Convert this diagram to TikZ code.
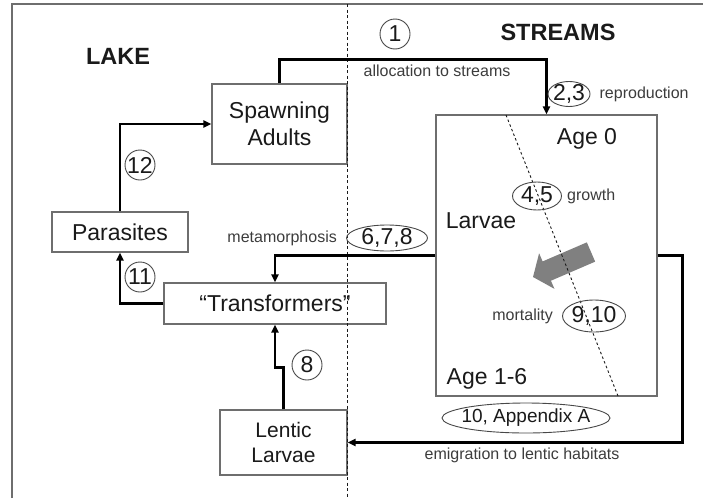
\documentclass[tikz,border=0pt]{standalone}
\usepackage{fontspec}
\setmainfont{Liberation Sans}
\usepackage{tikz}
\usetikzlibrary{positioning,shapes.geometric,arrows.meta}
\definecolor{boxgray}{HTML}{6E6E6E}
\definecolor{txt}{HTML}{1A1A1A}
\tikzset{%
  flow/.style = {-{Triangle[length=8pt,width=7pt]},line width=2.6pt},
  mortarrow/.style = {-{Triangle[length=15pt,width=38pt]},line width=21pt,
        draw=black!50},
  r/.style = {rectangle,draw=boxgray,line width=1.1pt,fill=white,
        text=txt,align=center,font=\fontsize{23}{27}\selectfont},
  c/.style = {circle,draw=txt!80,line width=0.9pt,minimum size=30pt,
        inner sep=-1pt,text=txt,font=\fontsize{23}{23}\selectfont},
  oval/.style = {ellipse,draw=txt!80,line width=0.9pt,inner xsep=-2pt,
        inner ysep=-2pt,text=txt,font=\fontsize{23}{23}\selectfont},
  txtin/.style = {text=txt,inner sep=0pt,font=\fontsize{23}{27}\selectfont},
  lbl/.style = {text=txt!85,inner sep=0pt,font=\fontsize{16}{16}\selectfont},
  title/.style = {text=txt,inner sep=0pt,font=\fontsize{23.5}{24}\selectfont\bfseries}
}
\begin{document}
\begin{tikzpicture}[x=1pt,y=-1pt]
\useasboundingbox (0,0) rectangle (703,498);
\draw[boxgray,line width=1.4pt] (12,498) -- (12,4) -- (703,4);

\node[title] (lake) at (118,56) {LAKE};
\node[title] (streams) at (558,32) {STREAMS};

% compartments
\node[r,minimum width=135pt,minimum height=80pt] (spawn) at (279.5,124) {Spawning\\Adults};
\node[r,minimum width=136pt,minimum height=40pt] (para) at (120,232) {Parasites};
\node[r,minimum width=222pt,minimum height=41pt] (trans) at (275,303.5) {“Transformers”};
\node[r,minimum width=127pt,minimum height=65pt,font=\fontsize{21}{25}\selectfont] (lentic) at (283.5,442.5) {Lentic\\Larvae};
\node[r,minimum width=221pt,minimum height=281pt] (larv) at (546.5,255.5) {};

\node[txtin] (age0) at (587,139) {Age 0};
\node[txtin] (larvae) at (481,221) {Larvae};
\node[txtin] (age16) at (487,379) {Age 1-6};

% lake / streams divider
\draw[txt,line width=0.8pt,dash pattern=on 3pt off 2.5pt] (347,4) -- (347,498);

% ageing inside the stream box
\coordinate (mtail) at (591,252);
\coordinate (mtip) at (533,277);
\draw[mortarrow] (mtail) -- (mtip);
\coordinate (dtop) at (506,115);
\coordinate (dbot) at (618,396);
\draw[txt,line width=0.9pt,dash pattern=on 2.5pt off 2.5pt] (dtop) -- (dbot);

% flows
\draw[flow] (spawn.north) -- ++(0,-24) -| (larv.north);
\draw[flow] (larv.west) -| (trans.north);
\draw[flow] (larv.east) -- ++(25,0) |- (lentic.east);
\draw[flow] (para.north) |- (spawn.west);
\draw[flow] (trans.west) -| (para.south);
\draw[flow] (lentic.north) -- ++(0,-42) -| (trans.south);

\node[c] (n1) at (395,34) {1};
\node[c] (n12) at (140,165) {12};
\node[c] (n11) at (140,277) {11};
\node[c] (n8) at (307,365) {8};

\node[oval,minimum width=42pt,minimum height=25pt] (e23) at (569,94) {2,3};
\node[oval,minimum width=49pt,minimum height=28pt] (e45) at (537,196) {4,5};
\node[oval,minimum width=81pt,minimum height=26pt] (e678) at (387,238) {6,7,8};
\node[oval,minimum width=63pt,minimum height=32pt] (e910) at (594,316) {9,10};
\node[oval,minimum width=168pt,minimum height=30pt,inner xsep=-6pt,
      font=\fontsize{19}{19}\selectfont] (eapp) at (526,418) {10, Appendix A};

\node[lbl] (alloc) at (437,71) {allocation to streams};
\node[lbl,right=9pt of e23] (repro) {reproduction};
\node[lbl,right=5pt of e45] (growth) {growth};
\node[lbl,left=9pt of e678] (meta) {metamorphosis};
\node[lbl,left=9pt of e910] (mort) {mortality};
\node[lbl] (emig) at (522,455) {emigration to lentic habitats};
\end{tikzpicture}
\end{document}
